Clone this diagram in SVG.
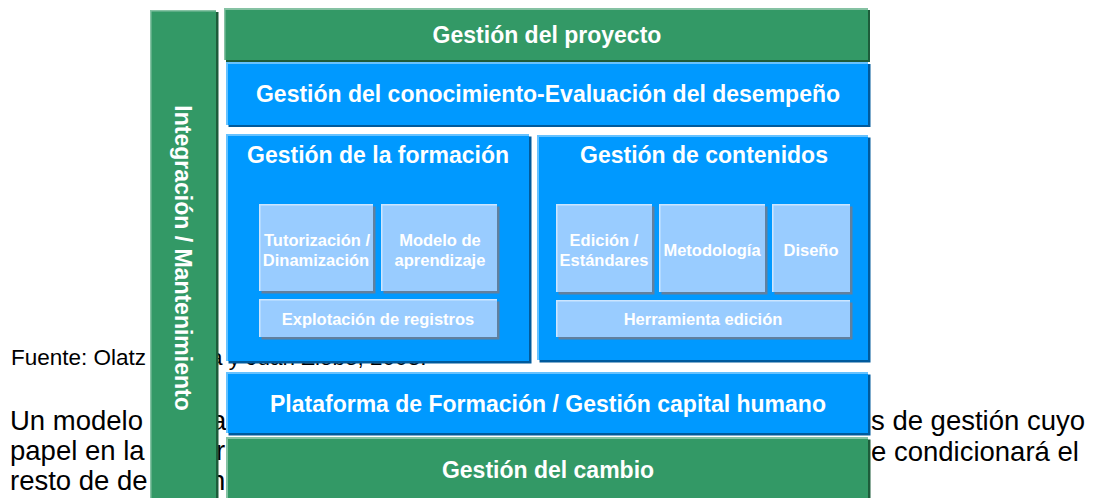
<svg xmlns="http://www.w3.org/2000/svg" width="1096" height="498" viewBox="0 0 1096 498">
<style>
.bg{font-family:"Liberation Sans",Arial,sans-serif;fill:#000}
.t{font-family:"Liberation Sans",Arial,sans-serif;font-weight:bold;fill:#fff;text-anchor:middle}
.big{font-size:23px}
.small{font-size:16.5px}
.g{fill:#339966}.gs{fill:#1d5c3a}.gh{fill:#85c2a3}
.b{fill:#0099ff}.bs{fill:#005a9c}.bh{fill:#66c2ff}
.l{fill:#99ccff}.ls{fill:#61809f}.lh{fill:#cce5ff}
</style>
<rect width="1096" height="498" fill="#fff"/>
<g id="background-text">
<text class="bg" x="11" y="365" font-size="22.5">Fuente: Olatz</text>
<text class="bg" x="210" y="365" font-size="22.5">a y Juan Zlobe, 2003.</text>
<text class="bg" x="10" y="430" font-size="27.5">Un modelo</text>
<text class="bg" x="211" y="430" font-size="27.5">a</text>
<text class="bg" x="10" y="460" font-size="27.5">papel en la</text>
<text class="bg" x="216" y="460" font-size="27.5">r</text>
<text class="bg" x="10" y="490" font-size="27.5">resto de de</text>
<text class="bg" x="210" y="490" font-size="27.5">n</text>
<text class="bg" x="871" y="430" font-size="27.5">s de gestión cuyo</text>
<text class="bg" x="871" y="461" font-size="27.5">e condicionará el</text>
</g>
<g id="integracion">
<rect class="gs" x="152.5" y="12" width="66" height="500"/>
<rect class="g" x="150" y="10" width="66" height="500"/>
<rect class="gh" x="150" y="10" width="66" height="1.5"/>
<rect class="gh" x="150" y="10" width="1.5" height="500"/>
<text class="t big" transform="translate(175,258) rotate(90)">Integración / Mantenimiento</text>
</g>
<g id="proyecto">
<rect class="gs" x="226" y="10" width="644" height="52"/>
<rect class="g" x="224" y="8" width="644" height="52"/>
<rect class="gh" x="224" y="8" width="644" height="2"/>
<rect class="gh" x="224" y="8" width="1.5" height="52"/>
<text class="t big" x="547" y="43">Gestión del proyecto</text>
</g>
<g id="conocimiento">
<rect class="bs" x="228.5" y="64" width="642" height="63"/>
<rect class="b" x="226" y="62" width="642" height="63"/>
<rect class="bh" x="226" y="62" width="642" height="2"/>
<rect class="bh" x="226" y="62" width="2" height="63"/>
<text class="t big" x="548" y="102">Gestión del conocimiento-Evaluación del desempeño</text>
</g>
<g id="formacion">
<rect class="bs" x="228.5" y="136.5" width="303" height="227"/>
<rect class="b" x="226" y="134" width="303" height="227"/>
<rect class="bh" x="226" y="134" width="303" height="2"/>
<rect class="bh" x="226" y="134" width="2" height="227"/>
<text class="t big" x="378" y="163">Gestión de la formación</text>
</g>
<g id="tutorizacion">
<rect class="ls" x="261.5" y="206.5" width="114" height="87"/>
<rect class="l" x="259" y="204" width="114" height="87"/>
<rect class="lh" x="259" y="204" width="114" height="1.5"/>
<rect class="lh" x="259" y="204" width="1.5" height="87"/>
<text class="t small" x="317" y="246">Tutorización /</text>
<text class="t small" x="316" y="266">Dinamización</text>
</g>
<g id="modelo">
<rect class="ls" x="383.5" y="206.5" width="116" height="87"/>
<rect class="l" x="381" y="204" width="116" height="87"/>
<rect class="lh" x="381" y="204" width="116" height="1.5"/>
<rect class="lh" x="381" y="204" width="1.5" height="87"/>
<text class="t small" x="440" y="246">Modelo de</text>
<text class="t small" x="440" y="266">aprendizaje</text>
</g>
<g id="explotacion">
<rect class="ls" x="261.5" y="301.5" width="238" height="38"/>
<rect class="l" x="259" y="299" width="238" height="38"/>
<rect class="lh" x="259" y="299" width="238" height="1.5"/>
<rect class="lh" x="259" y="299" width="1.5" height="38"/>
<text class="t small" x="378" y="325">Explotación de registros</text>
</g>
<g id="contenidos">
<rect class="bs" x="539.5" y="137.5" width="331" height="225"/>
<rect class="b" x="537" y="135" width="331" height="225"/>
<rect class="bh" x="537" y="135" width="331" height="2"/>
<rect class="bh" x="537" y="135" width="2" height="225"/>
<text class="t big" x="704" y="163">Gestión de contenidos</text>
</g>
<g id="edicion">
<rect class="ls" x="558.5" y="206.5" width="96" height="88"/>
<rect class="l" x="556" y="204" width="96" height="88"/>
<rect class="lh" x="556" y="204" width="96" height="1.5"/>
<rect class="lh" x="556" y="204" width="1.5" height="88"/>
<text class="t small" x="604" y="246">Edición /</text>
<text class="t small" x="604" y="266">Estándares</text>
</g>
<g id="metodologia">
<rect class="ls" x="661.5" y="206.5" width="106" height="88"/>
<rect class="l" x="659" y="204" width="106" height="88"/>
<rect class="lh" x="659" y="204" width="106" height="1.5"/>
<rect class="lh" x="659" y="204" width="1.5" height="88"/>
<text class="t small" x="712" y="256">Metodología</text>
</g>
<g id="diseno">
<rect class="ls" x="774.5" y="206.5" width="78" height="88"/>
<rect class="l" x="772" y="204" width="78" height="88"/>
<rect class="lh" x="772" y="204" width="78" height="1.5"/>
<rect class="lh" x="772" y="204" width="1.5" height="88"/>
<text class="t small" x="811" y="256">Diseño</text>
</g>
<g id="herramienta">
<rect class="ls" x="558.5" y="302.5" width="294" height="37"/>
<rect class="l" x="556" y="300" width="294" height="37"/>
<rect class="lh" x="556" y="300" width="294" height="1.5"/>
<rect class="lh" x="556" y="300" width="1.5" height="37"/>
<text class="t small" x="703" y="325">Herramienta edición</text>
</g>
<g id="plataforma">
<rect class="bs" x="228.5" y="374.5" width="642" height="61"/>
<rect class="b" x="226" y="372" width="642" height="61"/>
<rect class="bh" x="226" y="372" width="642" height="2"/>
<rect class="bh" x="226" y="372" width="2" height="61"/>
<text class="t big" x="548" y="412">Plataforma de Formación / Gestión capital humano</text>
</g>
<g id="cambio">
<rect class="gs" x="228.5" y="439.5" width="642" height="70"/>
<rect class="g" x="226" y="437" width="642" height="70"/>
<rect class="gh" x="226" y="437" width="642" height="2"/>
<rect class="gh" x="226" y="437" width="2" height="70"/>
<text class="t big" x="548" y="478">Gestión del cambio</text>
</g>
<g id="connectors"/>
</svg>
